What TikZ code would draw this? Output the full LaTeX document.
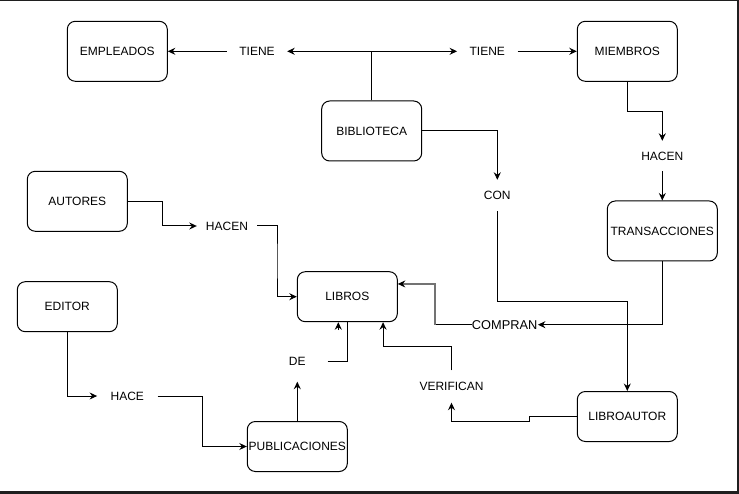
\documentclass[tikz,border=0pt]{standalone}
\usepackage{fontspec}
\setmainfont{Liberation Sans}
\usetikzlibrary{arrows.meta,calc}
\begin{document}
\begin{tikzpicture}[x=1pt,y=-1pt,
  box/.style={draw=black,line width=1pt,rounded corners=8pt,minimum width=100pt,minimum height=60pt,inner sep=0pt,font=\fontsize{12}{14}\selectfont},
  sbox/.style={box,minimum height=50pt},
  lbl/.style={inner sep=0pt,minimum width=60pt,minimum height=30pt,font=\fontsize{12}{14}\selectfont},
  con/.style={line width=1pt,draw=black},
  arr/.style={con,-{Stealth[length=7.5pt,width=7pt,inset=2.5pt]}},
  frame/.style={draw=black!88}
]
\useasboundingbox (0,0) rectangle (739,494);
\fill[white] (0,0) rectangle (739,494);
\draw[frame,line width=1.2pt] (0,0.6) -- (739,0.6);
\draw[frame,line width=2.2pt] (737.9,0) -- (737.9,494);
\draw[frame,line width=2.6pt] (0,492.7) -- (739,492.7);

% entities
\node[box] (empleados) at (117.3,51.3) {EMPLEADOS};
\node[box] (miembros) at (627.3,51.3) {MIEMBROS};
\node[box] (biblioteca) at (371.7,131) {BIBLIOTECA};
\node[box] (autores) at (77.3,201.3) {AUTORES};
\node[box,minimum width=110pt] (transacciones) at (662.3,231) {TRANSACCIONES};
\node[sbox] (libros) at (347.3,296.7) {LIBROS};
\node[sbox] (editor) at (67.3,306.7) {EDITOR};
\node[sbox] (libroautor) at (627.3,416.5) {LIBROAUTOR};
\node[sbox] (publicaciones) at (297.3,446.5) {PUBLICACIONES};

% relation labels
\node[lbl] (tieneL) at (257,51.3) {TIENE};
\node[lbl] (tieneR) at (487.3,51.3) {TIENE};
\node[lbl] (hacenR) at (662.3,156) {HACEN};
\node[lbl,minimum height=31pt] (con) at (497.3,195.5) {CON};
\node[lbl] (hacenL) at (227,226) {HACEN};
\node[lbl] (hace) at (127.3,396) {HACE};
\node[lbl,minimum height=41pt] (de) at (297.3,361) {DE};
\node[lbl,minimum width=80pt,minimum height=32pt] (verifican) at (451.5,386.5) {VERIFICAN};
\node[lbl,minimum width=66pt,minimum height=16pt,font=\fontsize{12.8}{14}\selectfont] (compran) at (504.7,324.7) {COMPRAN};

% connectors
\draw[arr] (biblioteca.north) |- (tieneL.east);
\draw[arr] (biblioteca.north) |- (tieneR.west);
\draw[arr] (tieneL.west) -- (empleados.east);
\draw[arr] (tieneR.east) -- (miembros.west);
\draw[arr] (miembros.south) |- ($(miembros.south)!0.5!(hacenR.north)$) -| (hacenR.north);
\draw[arr] (hacenR.south) -- (transacciones.north);
\draw[arr] (biblioteca.east) -| (con.north);
\draw[arr] (con.south) |- ($(con.south)!0.5!(libroautor.north)$) -| (libroautor.north);
\draw[arr] (transacciones.south) |- (compran.east);
\coordinate (cbend) at (435,324.7);
\coordinate (lin) at ($(libros.north east)!0.25!(libros.south east)$);
\draw[con] (compran.west) -- (cbend);
\draw[line width=1.3pt,draw=black!55] (cbend) |- ($(lin)+(3,0)$);
\draw[arr,shorten <=2pt] ($(lin)+(5,0)$) -- (lin);
\draw[arr] (autores.east) -| ($(autores.east)!0.5!(hacenL.west)$) |- (hacenL.west);
\draw[arr] (hacenL.east) -| ($(hacenL.east)!0.5!(libros.west)$) |- (libros.west);
\draw[con] (de.east) -| (libros.south);
\draw[arr] ($(libros.south)+(-9,8)$) -- ($(libros.south)+(-9,0)$);
\draw[arr] (publicaciones.north) -- (de.south);
\draw[arr] (editor.south) |- (hace.west);
\draw[arr] (hace.east) -| ($(hace.east)!0.5!(publicaciones.west)$) |- (publicaciones.west);
\coordinate (vin) at ($(libros.south west)!0.854!(libros.south east)$);
\draw[arr] (verifican.north) |- ($(verifican.north)!0.5!(vin)$) -| (vin);
\coordinate (lbend) at (529.3,416.5);
\draw[arr] (libroautor.west) -- (lbend) |- ($(verifican.south)+(0,18.5)$) -- (verifican.south);
\end{tikzpicture}
\end{document}
